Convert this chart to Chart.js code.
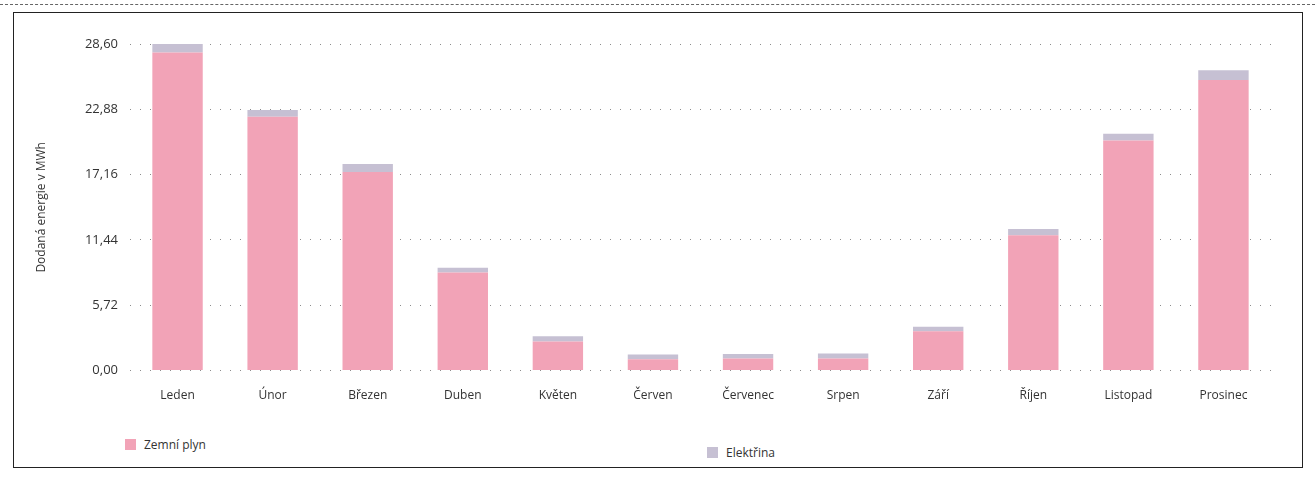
<!DOCTYPE html>
<html lang="cs">
<head>
<meta charset="utf-8">
<script src="https://cdn.jsdelivr.net/npm/chart.js@4/dist/chart.umd.min.js"></script>
<style>
    html, body { margin: 0; padding: 0; background: #fff; }
    body { width: 1315px; height: 504px; position: relative; overflow: hidden; font-family: 'Open Sans', sans-serif; }
    .topline { position: absolute; left: 0; top: 4px; width: 1315px; border-top: 1px dashed #666; }
    .frame { position: absolute; left: 13px; top: 12px; width: 1290px; height: 456px; border: 1.5px solid #222; box-sizing: border-box; }
    .chart-box { position: absolute; left: 0; top: 0; width: 1315px; height: 425px; }
    .legend { position: absolute; top: 436px; left: 0; width: 1315px; height: 20px; font-size: 12px; color: #333; }
    .legend-item { position: absolute; display: flex; align-items: center; }
    .legend-item span.sw { width: 11px; height: 11px; margin-right: 8px; display: inline-block; }
</style>
</head>
<body>
<div class="topline"></div>
<div class="frame"></div>
<div class="chart-box"><canvas id="energyChart"></canvas></div>
<div class="legend" id="legend"></div>
<script>
const months = ['Leden', 'Únor', 'Březen', 'Duben', 'Květen', 'Červen', 'Červenec', 'Srpen', 'Září', 'Říjen', 'Listopad', 'Prosinec'];
const zemniPlyn = [27.85, 22.23, 17.40, 8.60, 2.55, 1.00, 1.05, 1.05, 3.45, 11.85, 20.15, 25.45];
const elektrina = [0.75, 0.60, 0.70, 0.40, 0.45, 0.40, 0.40, 0.45, 0.40, 0.55, 0.60, 0.85];
const yTicks = [0, 5.72, 11.44, 17.16, 22.88, 28.60];

const PINK = '#f2a3b7';
const GREY = '#c6c0d3';

const ctx = document.getElementById('energyChart').getContext('2d');
const chart = new Chart(ctx, {
    type: 'bar',
    data: {
        labels: months,
        datasets: [
            {
                label: 'Zemní plyn',
                data: zemniPlyn,
                backgroundColor: PINK,
                barPercentage: 0.53,
                categoryPercentage: 1
            },
            {
                label: 'Elektřina',
                data: elektrina,
                backgroundColor: GREY,
                barPercentage: 0.53,
                categoryPercentage: 1
            }
        ]
    },
    options: {
        responsive: true,
        maintainAspectRatio: false,
        animation: false,
        layout: { padding: { left: 30, right: 44, top: 44, bottom: 12 } },
        plugins: {
            legend: { display: false },
            tooltip: { enabled: false }
        },
        scales: {
            x: {
                stacked: true,
                grid: { display: false },
                border: { display: false },
                ticks: {
                    padding: 10,
                    color: '#333',
                    font: { family: 'Open Sans', size: 12 }
                }
            },
            y: {
                stacked: true,
                min: 0,
                max: 28.6,
                afterFit: (scale) => { scale.width = 100; },
                afterBuildTicks: (scale) => { scale.ticks = yTicks.map(v => ({ value: v })); },
                grid: {
                    color: 'rgba(0,0,0,0.45)',
                    lineWidth: 1,
                    drawTicks: false
                },
                border: { display: false, dash: [1, 9] },
                ticks: {
                    padding: 12,
                    color: '#333',
                    font: { family: 'Open Sans', size: 13 },
                    callback: (v) => Number(v).toFixed(2).replace('.', ',')
                },
                title: {
                    display: true,
                    text: 'Dodaná energie v MWh',
                    color: '#333',
                    padding: { top: 4, bottom: 4 },
                    font: { family: 'Open Sans', size: 12 }
                }
            }
        }
    }
});

// legend laid out like the original: two items spread along the bottom row
const legendPos = [125, 707];
const legendEl = document.getElementById('legend');
chart.data.datasets.forEach((ds, i) => {
    const item = document.createElement('div');
    item.className = 'legend-item';
    item.style.left = legendPos[i] + 'px';
    item.style.top = (i * 8) + 'px';
    item.innerHTML = `<span class="sw" style="background:${ds.backgroundColor}"></span>${ds.label}`;
    legendEl.appendChild(item);
});
</script>
</body>
</html>
